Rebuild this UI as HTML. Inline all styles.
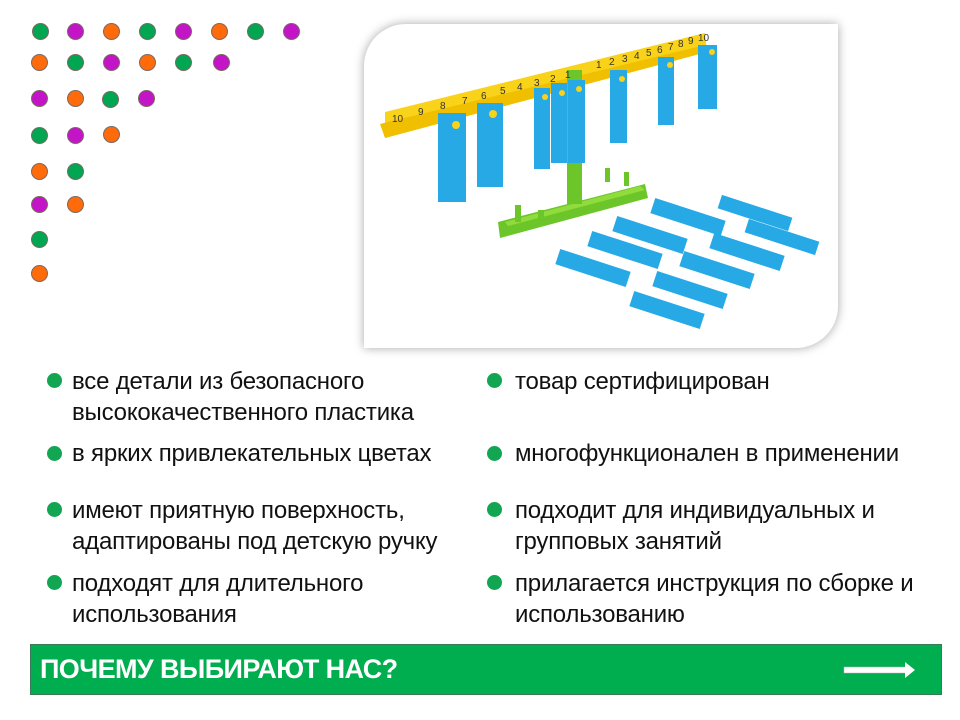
<!DOCTYPE html>
<html><head><meta charset="utf-8"><style>
body{margin:0;width:960px;height:720px;background:#fff;position:relative;overflow:hidden;font-family:"Liberation Sans",sans-serif;}
.d{position:absolute;width:17px;height:17px;border-radius:50%;box-sizing:border-box;border:1px solid #7a6a60;}
.g{background:#00a651}.m{background:#c414c8}.o{background:#ff6a0a}
.t{position:absolute;font-size:24px;color:#111;line-height:31px;white-space:nowrap;letter-spacing:-0.2px;}
.b{position:absolute;width:15px;height:15px;border-radius:50%;background:#12a652;}
.frame{position:absolute;left:364px;top:24px;width:474px;height:324px;background:#fff;border-radius:42px 0 42px 0;box-shadow:0 0 10px rgba(0,0,0,.35);overflow:hidden;}
.bar{position:absolute;left:30px;top:644px;width:912px;height:51px;background:#00ad4f;border:1px solid #3a7a5a;box-sizing:border-box;}
</style></head><body>
<div class="d g" style="left:32px;top:23px"></div><div class="d m" style="left:67px;top:23px"></div><div class="d o" style="left:103px;top:23px"></div><div class="d g" style="left:139px;top:23px"></div><div class="d m" style="left:175px;top:23px"></div><div class="d o" style="left:211px;top:23px"></div><div class="d g" style="left:247px;top:23px"></div><div class="d m" style="left:283px;top:23px"></div>
<div class="d o" style="left:31px;top:54px"></div><div class="d g" style="left:67px;top:54px"></div><div class="d m" style="left:103px;top:54px"></div><div class="d o" style="left:139px;top:54px"></div><div class="d g" style="left:175px;top:54px"></div><div class="d m" style="left:213px;top:54px"></div>
<div class="d m" style="left:31px;top:90px"></div><div class="d o" style="left:67px;top:90px"></div><div class="d g" style="left:102px;top:91px"></div><div class="d m" style="left:138px;top:90px"></div>
<div class="d g" style="left:31px;top:127px"></div><div class="d m" style="left:67px;top:127px"></div><div class="d o" style="left:103px;top:126px"></div>
<div class="d o" style="left:31px;top:163px"></div><div class="d g" style="left:67px;top:163px"></div>
<div class="d m" style="left:31px;top:196px"></div><div class="d o" style="left:67px;top:196px"></div>
<div class="d g" style="left:31px;top:231px"></div>
<div class="d o" style="left:31px;top:265px"></div>

<div class="frame"></div>
<svg style="position:absolute;left:0;top:0" width="960" height="720">
<g fill="#27a9e6">
<g transform="translate(688,217) rotate(18)"><rect x="-37" y="-8" width="74" height="16"/></g>
<g transform="translate(755,213) rotate(18)"><rect x="-37" y="-7" width="74" height="14"/></g>
<g transform="translate(650,235) rotate(18)"><rect x="-37" y="-8" width="74" height="16"/></g>
<g transform="translate(782,237) rotate(18)"><rect x="-37" y="-7" width="74" height="14"/></g>
<g transform="translate(625,250) rotate(18)"><rect x="-37" y="-8" width="74" height="16"/></g>
<g transform="translate(747,252) rotate(18)"><rect x="-37" y="-8" width="74" height="16"/></g>
<g transform="translate(593,268) rotate(18)"><rect x="-37" y="-8" width="74" height="16"/></g>
<g transform="translate(717,270) rotate(18)"><rect x="-37" y="-8" width="74" height="16"/></g>
<g transform="translate(690,290) rotate(18)"><rect x="-37" y="-8" width="74" height="16"/></g>
<g transform="translate(667,310) rotate(18)"><rect x="-37" y="-8" width="74" height="16"/></g>
</g>
<polygon points="498,222 645,184 648,198 500,238" fill="#6cc62a"/>
<polygon points="505,222 640,186 645,190 508,226" fill="#8fdc3c"/>
<rect x="515" y="205" width="6" height="17" fill="#6cc62a"/><rect x="538" y="210" width="6" height="16" fill="#6cc62a"/>
<rect x="605" y="168" width="5" height="14" fill="#6cc62a"/><rect x="624" y="172" width="5" height="14" fill="#6cc62a"/>
<polygon points="385,112 705,33 707,52 385,138" fill="#f9d21a"/>
<polygon points="380,124 705,45 707,52 385,138" fill="#f0c000"/>
<rect x="567" y="70" width="15" height="134" fill="#6cc62a"/>
<g font-size="10" fill="#333" font-family="Liberation Sans">
<text x="392" y="122">10</text><text x="418" y="115">9</text><text x="440" y="109">8</text><text x="462" y="104">7</text><text x="481" y="99">6</text><text x="500" y="94">5</text><text x="517" y="90">4</text><text x="534" y="86">3</text><text x="550" y="82">2</text><text x="565" y="78">1</text><text x="596" y="68">1</text><text x="609" y="65">2</text><text x="622" y="62">3</text><text x="634" y="59">4</text><text x="646" y="56">5</text><text x="657" y="53">6</text><text x="668" y="50">7</text><text x="678" y="47">8</text><text x="688" y="44">9</text><text x="698" y="41">10</text>
</g>
<g fill="#27a9e6">
<rect x="438" y="113" width="28" height="89"/><rect x="477" y="103" width="26" height="84"/>
<rect x="534" y="88" width="16" height="81"/><rect x="551" y="83" width="16" height="80"/><rect x="568" y="80" width="17" height="83"/>
<rect x="610" y="70" width="17" height="73"/><rect x="658" y="57" width="16" height="68"/><rect x="698" y="45" width="19" height="64"/>
</g>
<g fill="#f9d21a"><circle cx="456" cy="125" r="4"/><circle cx="493" cy="114" r="4"/><circle cx="545" cy="97" r="3"/><circle cx="562" cy="93" r="3"/><circle cx="579" cy="89" r="3"/><circle cx="622" cy="79" r="3"/><circle cx="670" cy="65" r="3"/><circle cx="712" cy="52" r="3"/></g>
</svg>

<div class="b" style="left:47px;top:373px"></div><div class="t" style="left:72px;top:366px">все детали из безопасного<br>высококачественного пластика</div>
<div class="b" style="left:47px;top:446px"></div><div class="t" style="left:72px;top:438px">в ярких привлекательных цветах</div>
<div class="b" style="left:47px;top:502px"></div><div class="t" style="left:72px;top:495px">имеют приятную поверхность,<br>адаптированы под детскую ручку</div>
<div class="b" style="left:47px;top:575px"></div><div class="t" style="left:72px;top:568px">подходят для длительного<br>использования</div>
<div class="b" style="left:487px;top:373px"></div><div class="t" style="left:515px;top:366px">товар сертифицирован</div>
<div class="b" style="left:487px;top:446px"></div><div class="t" style="left:515px;top:438px">многофункционален в применении</div>
<div class="b" style="left:487px;top:502px"></div><div class="t" style="left:515px;top:495px">подходит для индивидуальных и<br>групповых занятий</div>
<div class="b" style="left:487px;top:575px"></div><div class="t" style="left:515px;top:568px">прилагается инструкция по сборке и<br>использованию</div>

<div class="bar"><div style="position:absolute;left:9px;top:9px;color:#fff;font-weight:bold;font-size:27px;letter-spacing:-0.6px;">ПОЧЕМУ ВЫБИРАЮТ НАС?</div>
<svg style="position:absolute;left:812px;top:16px" width="74" height="18"><rect x="1" y="6" width="62" height="6" fill="#fff" stroke="#bbb" stroke-width=".5"/><polygon points="62,1 72,9 62,17" fill="#fff"/></svg></div>
</body></html>
